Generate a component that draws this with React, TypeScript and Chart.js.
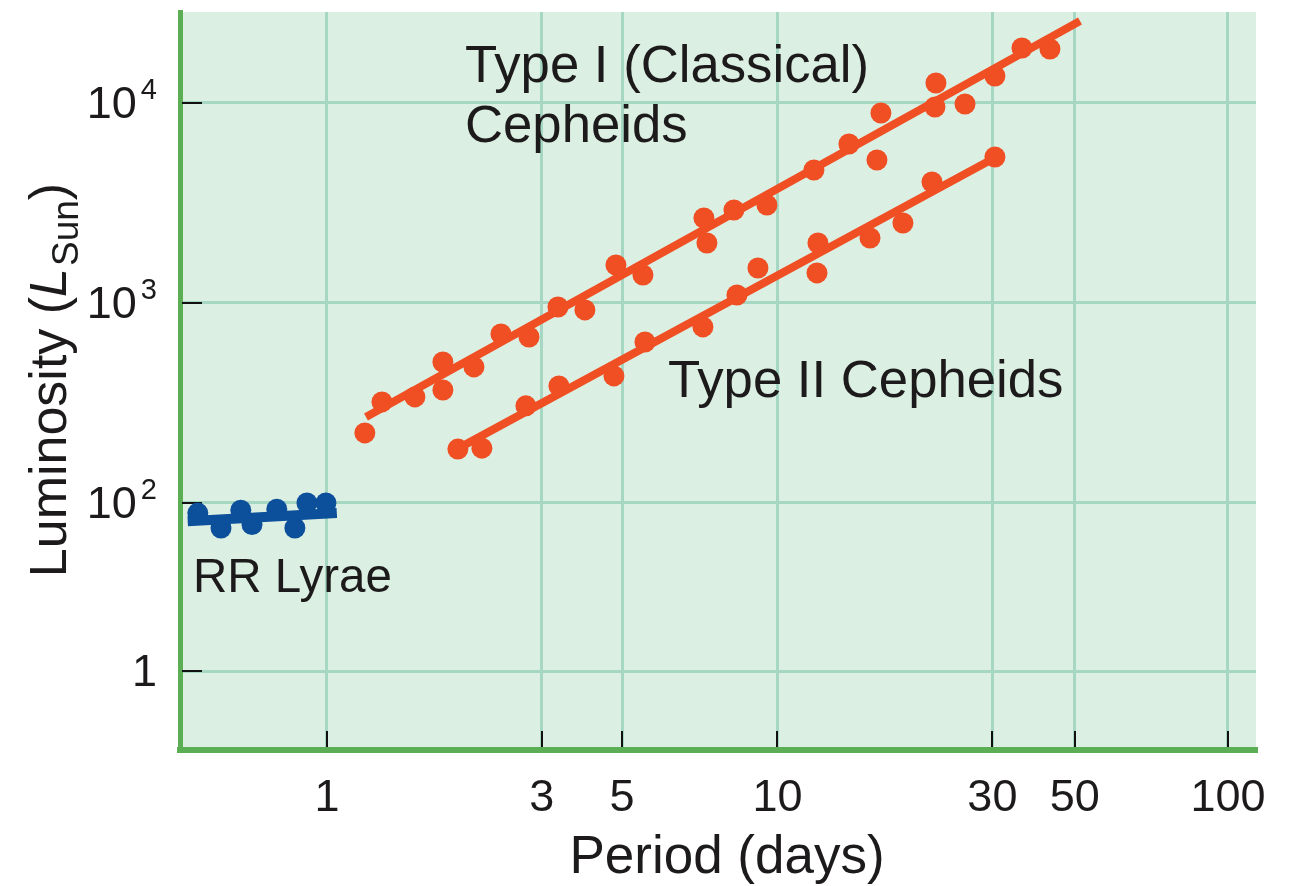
import { useEffect, useRef } from "react";
import { Chart, registerables } from "chart.js";

Chart.register(...registerables);

// ---- Data (period in days, luminosity in L_Sun) ----
const rrPeriod = [0.517, 0.582, 0.644, 0.682, 0.774, 0.849, 0.903, 0.995];
const rrLum = [89, 75, 92, 78, 93, 75, 100, 100];
const rrFitPeriod = [0.491, 1.052];
const rrFitLum = [81, 89];

const type1Period = [
  1.214, 1.325, 1.568, 1.809, 1.809, 2.12, 2.434, 2.809, 3.257, 3.738, 4.381, 5.029,
  6.868, 6.974, 8.006, 9.478, 12.05, 14.41, 16.63, 16.97, 22.48, 22.37, 26.08, 30.39,
  34.89, 40.26,
];
const type1Lum = [
  224, 320, 339, 507, 367, 479, 700, 676, 955, 923, 1549, 1380, 2661, 1995, 2917, 3090,
  4624, 6237, 5188, 8913, 12589, 9550, 9886, 13646, 18836, 18621,
];
const type1FitPeriod = [1.221, 46.94];
const type1FitLum = [269, 25700];

const type2Period = [
  1.953, 2.208, 2.765, 3.273, 4.336, 5.081, 6.833, 8.131, 9.052, 12.24, 12.3, 16.05,
  18.99, 22.03, 30.39,
];
const type2Lum = [
  186, 188, 306, 385, 432, 638, 759, 1096, 1496, 1413, 1995, 2113, 2512, 4027, 5370,
];
const type2FitPeriod = [2.004, 31.18];
const type2FitLum = [193, 5495];

const xTickValues = [1, 3, 4.52, 10, 30, 45.7, 100];
const xTickLabels = ["1", "3", "5", "10", "30", "50", "100"];
const yTickValues = [14.45, 100, 1000, 10000];
const yTickBase = ["1", "10", "10", "10"];
const yTickExp = ["", "2", "3", "4"];
const xRange = [0.472, 115.4];
const yRange = [5.82, 28500];

const xTitle = "Period (days)";

// ---- Styles ----
const FONT = "'Liberation Sans', Arial, Helvetica, sans-serif";
const BG = "#dcefe3";
const GRID = "#a6d7c2";
const AXIS = "#5cae55";
const ORANGE = "#f04e23";
const BLUE = "#0c4f9b";
const TEXT = "#1c1a1b";

const pts = (xs: number[], ys: number[]) => xs.map((x, i) => ({ x, y: ys[i] }));

const decorPlugin = {
  id: "decor",
  beforeDraw(chart: any) {
    const { ctx, chartArea: a } = chart;
    ctx.save();
    ctx.fillStyle = BG;
    ctx.fillRect(a.left, a.top, a.right - a.left, a.bottom - a.top);
    ctx.restore();
  },
  beforeDatasetsDraw(chart: any) {
    const { ctx, chartArea: a } = chart;
    const xs = chart.scales.x;
    const ys = chart.scales.y;
    ctx.save();
    ctx.strokeStyle = "#111";
    ctx.lineWidth = 2;
    ctx.beginPath();
    xTickValues.forEach((v) => {
      const px = Math.round(xs.getPixelForValue(v));
      ctx.moveTo(px, a.bottom - 3);
      ctx.lineTo(px, a.bottom - 19);
    });
    yTickValues.forEach((v) => {
      const py = Math.round(ys.getPixelForValue(v));
      ctx.moveTo(a.left + 2, py);
      ctx.lineTo(a.left + 22, py);
    });
    ctx.stroke();
    ctx.restore();

    // y tick labels with superscript exponents
    ctx.save();
    ctx.fillStyle = TEXT;
    ctx.textBaseline = "alphabetic";
    ctx.textAlign = "right";
    const right = a.left - 23;
    yTickValues.forEach((v, i) => {
      const py = ys.getPixelForValue(v);
      const base = py + 15;
      let x = right;
      if (yTickExp[i]) {
        ctx.font = `29px ${FONT}`;
        ctx.fillText(yTickExp[i], x, base - 19);
        x -= ctx.measureText(yTickExp[i]).width + 4;
      }
      ctx.font = `45px ${FONT}`;
      ctx.fillText(yTickBase[i], x, base);
    });
    ctx.restore();
  },
  afterDraw(chart: any) {
    const { ctx } = chart;
    ctx.save();
    ctx.fillStyle = TEXT;
    ctx.textBaseline = "alphabetic";
    ctx.textAlign = "left";
    ctx.font = `52.7px ${FONT}`;
    ctx.fillText("Type I (Classical)", 465, 82);
    ctx.fillText("Cepheids", 465, 142);
    ctx.fillText("Type II Cepheids", 668, 397);
    ctx.font = `47.5px ${FONT}`;
    ctx.fillText("RR Lyrae", 193, 592);

    // x-axis title
    ctx.textAlign = "center";
    ctx.font = `53px ${FONT}`;
    ctx.fillText(xTitle, 727, 873);
    ctx.textAlign = "left";

    // y-axis title: Luminosity (L_Sun)
    const size = 52;
    const sub = 37;
    const p1 = "Luminosity (";
    const p2 = "L";
    const p3 = "Sun";
    const p4 = ")";
    ctx.font = `${size}px ${FONT}`;
    const w1 = ctx.measureText(p1).width;
    const w4 = ctx.measureText(p4).width;
    ctx.font = `italic ${size}px ${FONT}`;
    const w2 = ctx.measureText(p2).width;
    ctx.font = `${sub}px ${FONT}`;
    const w3 = ctx.measureText(p3).width;
    const total = w1 + w2 + w3 + w4 + 2;
    ctx.translate(66, 380);
    ctx.rotate(-Math.PI / 2);
    let x = -total / 2;
    ctx.font = `${size}px ${FONT}`;
    ctx.fillText(p1, x, 0);
    x += w1;
    ctx.font = `italic ${size}px ${FONT}`;
    ctx.fillText(p2, x, 0);
    x += w2 + 2;
    ctx.font = `${sub}px ${FONT}`;
    ctx.fillText(p3, x, 12);
    x += w3;
    ctx.font = `${size}px ${FONT}`;
    ctx.fillText(p4, x, 0);
    ctx.restore();
  },
};

export default function App() {
  const canvasRef = useRef<HTMLCanvasElement | null>(null);

  useEffect(() => {
    const canvas = canvasRef.current;
    if (!canvas) return;
    const chart = new Chart(canvas, {
      type: "scatter",
      data: {
        datasets: [
          {
            label: "Type I fit",
            data: pts(type1FitPeriod, type1FitLum),
            showLine: true,
            borderColor: ORANGE,
            borderWidth: 8,
            pointRadius: 0,
          },
          {
            label: "Type II fit",
            data: pts(type2FitPeriod, type2FitLum),
            showLine: true,
            borderColor: ORANGE,
            borderWidth: 8,
            pointRadius: 0,
          },
          {
            label: "RR Lyrae fit",
            data: pts(rrFitPeriod, rrFitLum),
            showLine: true,
            borderColor: BLUE,
            borderWidth: 10,
            pointRadius: 0,
          },
          {
            label: "Type I",
            data: pts(type1Period, type1Lum),
            backgroundColor: ORANGE,
            borderWidth: 0,
            pointRadius: 10.5,
          },
          {
            label: "Type II",
            data: pts(type2Period, type2Lum),
            backgroundColor: ORANGE,
            borderWidth: 0,
            pointRadius: 10.5,
          },
          {
            label: "RR Lyrae",
            data: pts(rrPeriod, rrLum),
            backgroundColor: BLUE,
            borderWidth: 0,
            pointRadius: 10.5,
          },
        ],
      },
      options: {
        responsive: false,
        animation: false,
        layout: { padding: { top: 12, right: 42, left: 0, bottom: 0 } },
        plugins: {
          legend: { display: false },
          tooltip: { enabled: false },
        },
        scales: {
          x: {
            type: "logarithmic",
            bounds: "data",
            min: xRange[0],
            max: xRange[1],
            afterBuildTicks: (s: any) => {
              s.ticks = xTickValues.map((v) => ({ value: v }));
            },
            afterFit: (s: any) => {
              s.height = 136;
              s.paddingLeft = 0;
              s.paddingRight = 0;
            },
            grid: { color: GRID, lineWidth: 3, drawTicks: false },
            border: { color: AXIS, width: 6 },
            ticks: {
              autoSkip: false,
              maxRotation: 0,
              padding: 22,
              color: TEXT,
              font: { family: FONT, size: 45 },
              callback: (_v: any, i: number) => xTickLabels[i],
            },
            title: { display: false, text: xTitle },
          },
          y: {
            type: "logarithmic",
            bounds: "data",
            min: yRange[0],
            max: yRange[1],
            afterBuildTicks: (s: any) => {
              s.ticks = yTickValues.map((v) => ({ value: v }));
            },
            afterFit: (s: any) => {
              s.width = 180;
              s.paddingTop = 0;
              s.paddingBottom = 0;
            },
            grid: { color: GRID, lineWidth: 3, drawTicks: false },
            border: { color: AXIS, width: 5 },
            ticks: { display: false },
          },
        },
      },
      plugins: [decorPlugin],
    } as any);
    return () => chart.destroy();
  }, []);

  return (
    <div style={{ position: "fixed", left: 0, top: 0, width: 1298, height: 886, background: "#fff" }}>
      <canvas ref={canvasRef} width={1298} height={886} style={{ display: "block" }} />
    </div>
  );
}
